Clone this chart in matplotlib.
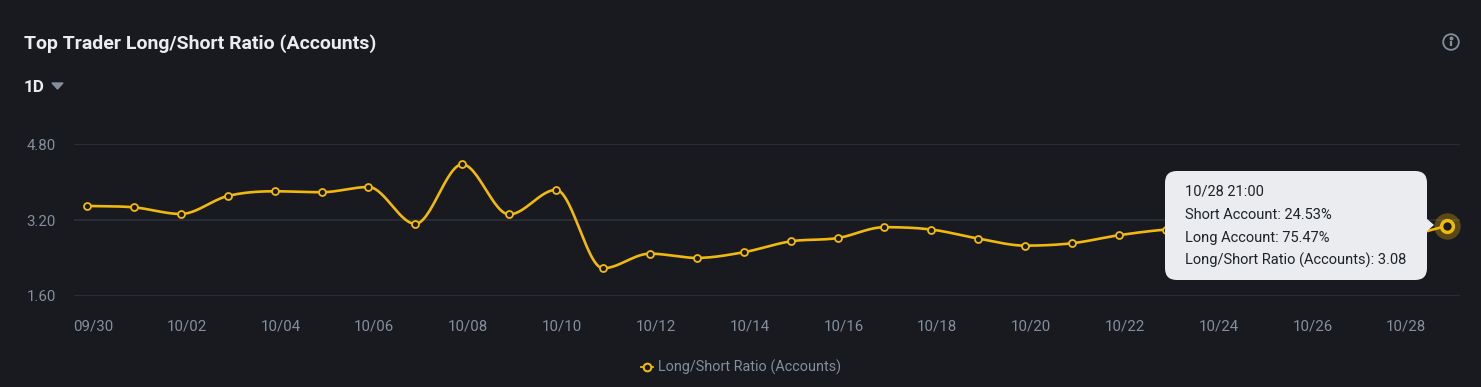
import numpy as np
import pandas as pd
import matplotlib
matplotlib.use("Agg")
import matplotlib.pyplot as plt
import matplotlib.dates as mdates
from matplotlib.patches import FancyBboxPatch, Circle, Polygon
from matplotlib.lines import Line2D

# ---------------- data ----------------
times = pd.date_range("2024-09-29 21:00", periods=30, freq="D")
ratios = [3.50, 3.47, 3.33, 3.71, 3.81, 3.79, 3.90, 3.12, 4.38, 3.32,
          3.84, 2.18, 2.49, 2.40, 2.52, 2.75, 2.82, 3.05, 3.00, 2.81,
          2.66, 2.71, 2.88, 3.00, 3.05, 3.03, 2.98, 2.92, 2.87, 3.08]
tick_dates = pd.date_range("2024-09-30", "2024-10-28", freq="2D")
y_ticks = [1.60, 3.20, 4.80]
title = "Top Trader Long/Short Ratio (Accounts)"
series_name = "Long/Short Ratio (Accounts)"
tooltip_lines = ["10/28 21:00", "Short Account: 24.53%", "Long Account: 75.47%",
                 "Long/Short Ratio (Accounts): 3.08"]

# ---------------- style ----------------
BG = "#181A20"
GRID = "#2B3139"
YEL = "#F0B90B"
GRAY = "#848E9C"
WHITE = "#EAECEF"
plt.rcParams["font.family"] = ["Roboto", "DejaVu Sans"]

W, H = 1481, 387
fig = plt.figure(figsize=(W / 100, H / 100), dpi=100, facecolor=BG)
renderer = fig.canvas.get_renderer()

def px(x, y):
    return x / W, 1 - y / H

def fit_text(txt_obj, target_px):
    w = txt_obj.get_window_extent(renderer=renderer).width
    txt_obj.set_fontsize(txt_obj.get_fontsize() * target_px / w)

ax_l, ax_r, ax_t, ax_b = 74, 1460, 144.5, 295.7
ax = fig.add_axes([ax_l / W, 1 - ax_b / H, (ax_r - ax_l) / W, (ax_b - ax_t) / H])
ax.set_facecolor(BG)

xn = mdates.date2num(times)
yv = np.array(ratios)

# smooth curve (cubic Hermite, flat tangents at local extrema)
n = len(yv)
m = np.zeros(n)
for i in range(n):
    if i == 0:
        m[i] = yv[1] - yv[0]
    elif i == n - 1:
        m[i] = yv[-1] - yv[-2]
    else:
        if (yv[i] - yv[i - 1]) * (yv[i + 1] - yv[i]) <= 0:
            m[i] = 0
        else:
            m[i] = (yv[i + 1] - yv[i - 1]) / 2
sx, sy = [], []
for i in range(n - 1):
    t = np.linspace(0, 1, 30)
    h00 = 2 * t**3 - 3 * t**2 + 1
    h10 = t**3 - 2 * t**2 + t
    h01 = -2 * t**3 + 3 * t**2
    h11 = t**3 - t**2
    sy.append(h00 * yv[i] + h10 * m[i] + h01 * yv[i + 1] + h11 * m[i + 1])
    sx.append(xn[i] + t * (xn[i + 1] - xn[i]))
sx = np.concatenate(sx)
sy = np.concatenate(sy)

ax.plot(sx, sy, color=YEL, lw=1.9, zorder=3, solid_capstyle="round")
ax.plot(xn[:-1], yv[:-1], ls="none", marker="o", ms=5, mfc=BG, mec=YEL, mew=1.3, zorder=4)
# highlighted last point
ax.plot(xn[-1], yv[-1], ls="none", marker="o", ms=19, mfc=YEL, mec="none", alpha=0.3, zorder=4, clip_on=False)
ax.plot(xn[-1], yv[-1], ls="none", marker="o", ms=8.5, mfc=BG, mec=YEL, mew=2.5, zorder=5, clip_on=False)

ax.set_xlim(xn[0] - 0.277, xn[-1] + 0.27)
ax.set_ylim(1.60, 4.80)
ax.set_yticks(y_ticks)
ax.set_yticklabels([f"{v:.2f}" for v in y_ticks])
ax.set_xticks(mdates.date2num(tick_dates))
ax.set_xticklabels([d.strftime("%m/%d") for d in tick_dates])
ax.grid(axis="y", color=GRID, lw=1.2)
ax.set_axisbelow(True)
for s in ax.spines.values():
    s.set_visible(False)
ax.tick_params(axis="both", length=0, colors=GRAY, labelsize=10.8)
ax.tick_params(axis="y", pad=13)
ax.tick_params(axis="x", pad=17)

# title and selector
t_title = fig.text(*px(24, 44), title, color=WHITE, fontsize=13, fontweight="bold", va="center", ha="left")
fit_text(t_title, 352)
t1d = fig.text(*px(24, 88), "1D", color=WHITE, fontsize=12.8, fontweight="bold", va="center", ha="left")
fit_text(t1d, 21)
fig.patches.append(Polygon([px(52, 83), px(63, 83), px(57.5, 89)], closed=True,
                           transform=fig.transFigure, color=GRAY))

# info icon
info_ax = fig.add_axes([(1451 - 10) / W, 1 - (42 + 10) / H, 20 / W, 20 / H])
info_ax.set_xlim(-10, 10); info_ax.set_ylim(-10, 10); info_ax.axis("off")
info_ax.add_patch(Circle((0, 0), 7.8, fill=False, ec=GRAY, lw=1.3))
info_ax.plot([0, 0], [-4.2, 1.2], color=GRAY, lw=1.6, solid_capstyle="butt")
info_ax.plot([0], [3.8], marker="o", ms=1.8, color=GRAY)

# tooltip
tx0, tx1, ty0, ty1 = 1165, 1427, 171, 280
tip = FancyBboxPatch(px(tx0, ty1), (tx1 - tx0) / W, (ty1 - ty0) / H,
                     boxstyle="round,pad=0,rounding_size=0.008", transform=fig.transFigure,
                     fc="#EAECEF", ec="none", zorder=10,
                     mutation_aspect=W / H)
fig.patches.append(tip)
fig.patches.append(Polygon([px(1426, 218), px(1434, 225), px(1426, 232)], closed=True,
                           transform=fig.transFigure, fc="#EAECEF", ec="none", zorder=10))
tip_texts = []
for i, line in enumerate(tooltip_lines):
    tip_texts.append(fig.text(*px(1185, 192 + i * 22.8), line, color="#1E2329", fontsize=10,
                              va="center", ha="left", zorder=11))
w_last = tip_texts[-1].get_window_extent(renderer=renderer).width
scale = 221 / w_last
for tt in tip_texts:
    tt.set_fontsize(10 * scale)

# legend
lx, ly = 647, 367
fig.lines.append(Line2D([(lx - 6) / W, (lx + 6) / W], [1 - ly / H] * 2,
                        transform=fig.transFigure, color=YEL, lw=1.3))
fig.lines.append(Line2D([lx / W], [1 - ly / H], transform=fig.transFigure, ls="none",
                        marker="o", ms=5.5, mfc=BG, mec=YEL, mew=1.5))
t_leg = fig.text(*px(658, 367), series_name, color=GRAY, fontsize=10.5, va="center", ha="left")
fit_text(t_leg, 183)

fig.savefig("out.png", dpi=100, facecolor=BG)
